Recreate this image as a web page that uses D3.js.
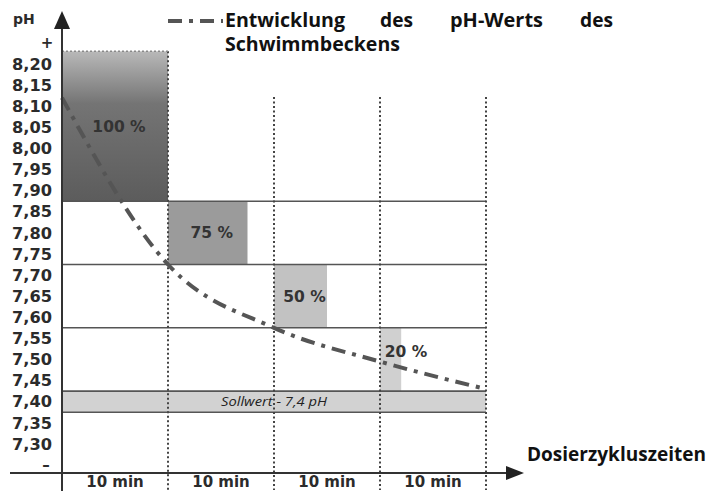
<!DOCTYPE html>
<head>
  <meta charset="utf-8">
  <title>Entwicklung des pH-Werts</title>
  <script src="https://d3js.org/d3.v7.min.js"></script>
  <style>
    body { margin: 0; background: #fff; }
    text { fill: #2b2b2b; }
  </style>
</head>
<body>
  <svg id="main-svg"></svg>
  <script type="text/javascript">
    // values
    var phTicks = [7.30, 7.35, 7.40, 7.45, 7.50, 7.55, 7.60, 7.65, 7.70, 7.75, 7.80, 7.85, 7.90, 7.95, 8.00, 8.05, 8.10, 8.15, 8.20];
    var cycleLabels = ["10 min", "10 min", "10 min", "10 min"];
    var dosing = [100, 75, 50, 20];
    var bandTop = [8.23, 7.875, 7.725, 7.575];
    var bandBottom = [7.875, 7.725, 7.575, 7.425];
    var sollwert = [7.425, 7.375];
    var phTime = [0, 10, 20, 30, 40];
    var phValues = [8.12, 7.725, 7.575, 7.495, 7.43];

    const svg_width = 710;
    const svg_height = 491;

    var x = d3.scaleLinear().domain([0, 40]).range([62, 486]);
    var y = d3.scaleLinear().domain([7.25, 8.20]).range([465, 64]);
    var colW = x(10) - x(0);

    var svg = d3.select("#main-svg")
      .attr("width", svg_width)
      .attr("height", svg_height);

    var defs = svg.append("defs");
    var grad = defs.append("linearGradient")
      .attr("id", "g100").attr("x1", 0).attr("y1", 0).attr("x2", 0).attr("y2", 1);
    grad.append("stop").attr("offset", "0%").attr("stop-color", "#b8b8b8");
    grad.append("stop").attr("offset", "35%").attr("stop-color", "#747474");
    grad.append("stop").attr("offset", "100%").attr("stop-color", "#5c5c5c");

    var barColors = ["url(#g100)", "#9b9b9b", "#c2c2c2", "#d0d0d0"];

    // dosing bars
    svg.selectAll(".bar")
      .data(dosing)
      .enter().append("rect")
      .attr("class", "bar")
      .attr("x", function(d, i) { return x(i * 10); })
      .attr("y", function(d, i) { return y(bandTop[i]); })
      .attr("width", function(d) { return colW * d / 100; })
      .attr("height", function(d, i) { return y(bandBottom[i]) - y(bandTop[i]); })
      .style("fill", function(d, i) { return barColors[i]; });

    // sollwert band
    svg.append("rect")
      .attr("x", x(0))
      .attr("y", y(sollwert[0]))
      .attr("width", x(40) - x(0))
      .attr("height", y(sollwert[1]) - y(sollwert[0]))
      .style("fill", "#d2d2d2");

    svg.append("text")
      .attr("x", 274)
      .attr("y", (y(sollwert[0]) + y(sollwert[1])) / 2)
      .attr("dy", "0.35em")
      .attr("text-anchor", "middle")
      .attr("textLength", 106)
      .attr("lengthAdjust", "spacingAndGlyphs")
      .style("font-family", "Open Sans")
      .style("font-style", "italic")
      .style("font-size", "13.5px")
      .style("fill", "#222")
      .text("Sollwert - 7,4 pH");

    // horizontal solid lines
    var hLines = bandBottom.concat([sollwert[1]]);
    svg.selectAll(".hline")
      .data(hLines)
      .enter().append("line")
      .attr("x1", x(0)).attr("x2", x(40))
      .attr("y1", function(d) { return y(d); })
      .attr("y2", function(d) { return y(d); })
      .style("stroke", "#555")
      .style("stroke-width", 1.6);

    // dotted verticals
    svg.selectAll(".vline")
      .data([10, 20, 30, 40])
      .enter().append("line")
      .attr("x1", function(d) { return x(d); })
      .attr("x2", function(d) { return x(d); })
      .attr("y1", function(d) { return d === 10 ? y(bandTop[0]) : 97; })
      .attr("y2", 490)
      .style("stroke", "#444")
      .style("stroke-width", 2)
      .style("stroke-dasharray", "2,2.5");

    svg.append("line")
      .attr("x1", x(0)).attr("x2", x(10))
      .attr("y1", y(bandTop[0])).attr("y2", y(bandTop[0]))
      .style("stroke", "#888")
      .style("stroke-width", 1.5)
      .style("stroke-dasharray", "2,2");

    // percent labels
    svg.selectAll(".pct")
      .data(dosing)
      .enter().append("text")
      .attr("x", function(d, i) { return Math.max(x(i * 10) + colW * d / 200 + 4, x(i * 10) + 26); })
      .attr("y", function(d, i) { return (y(bandTop[i]) + y(bandBottom[i])) / 2 - (i === 3 ? 8 : 0); })
      .attr("dy", "0.36em")
      .attr("text-anchor", "middle")
      .style("font-family", "DejaVu Sans")
      .style("font-weight", "bold")
      .style("font-size", "15.5px")
      .style("fill", "#333")
      .text(function(d) { return d + " %"; });

    // pH curve
    var line = d3.line()
      .x(function(d, i) { return x(phTime[i]); })
      .y(function(d) { return y(d); })
      .curve(d3.curveMonotoneX);

    svg.append("path")
      .datum(phValues)
      .attr("d", line)
      .style("fill", "none")
      .style("stroke", "#555")
      .style("stroke-width", 4)
      .style("stroke-dasharray", "14,7,4,7");

    // axes
    svg.append("line")
      .attr("x1", 10).attr("x2", 512)
      .attr("y1", 473).attr("y2", 473)
      .style("stroke", "#333").style("stroke-width", 2);
    svg.append("path")
      .attr("d", "M524,473 L506,466 L506,480 Z")
      .style("fill", "#222");

    svg.append("line")
      .attr("x1", x(0)).attr("x2", x(0))
      .attr("y1", 491).attr("y2", 26)
      .style("stroke", "#333").style("stroke-width", 2);
    svg.append("path")
      .attr("d", "M62,11 L54,29 L70,29 Z")
      .style("fill", "#222");

    var fmt = function(d) { return d3.format(".2f")(d).replace(".", ","); };

    svg.selectAll(".ytick")
      .data(phTicks)
      .enter().append("text")
      .attr("x", 52)
      .attr("y", function(d) { return y(d); })
      .attr("dy", "0.36em")
      .attr("text-anchor", "end")
      .attr("textLength", 40)
      .attr("lengthAdjust", "spacingAndGlyphs")
      .style("font-family", "DejaVu Sans")
      .style("font-weight", "bold")
      .style("font-size", "16px")
      .text(fmt);

    svg.append("text")
      .attr("x", 47).attr("y", y(8.25)).attr("dy", "0.36em")
      .attr("text-anchor", "middle")
      .style("font-family", "DejaVu Sans").style("font-weight", "bold").style("font-size", "15px")
      .text("+");
    svg.append("text")
      .attr("x", 46).attr("y", y(7.25)).attr("dy", "0.36em")
      .attr("text-anchor", "middle")
      .style("font-family", "DejaVu Sans").style("font-weight", "bold").style("font-size", "15px")
      .text("–");
    svg.append("text")
      .attr("x", 13).attr("y", 24)
      .style("font-family", "DejaVu Sans").style("font-weight", "bold").style("font-size", "14px")
      .text("pH");

    svg.selectAll(".xtick")
      .data(cycleLabels)
      .enter().append("text")
      .attr("x", function(d, i) { return x(i * 10 + 5); })
      .attr("y", 487)
      .attr("text-anchor", "middle")
      .style("font-family", "DejaVu Sans")
      .style("font-weight", "bold")
      .style("font-size", "15px")
      .text(function(d) { return d; });

    svg.append("text")
      .attr("x", 527).attr("y", 461)
      .attr("textLength", 179)
      .attr("lengthAdjust", "spacingAndGlyphs")
      .style("font-family", "Open Sans").style("font-weight", "bold").style("font-size", "19px")
      .style("fill", "#111")
      .text("Dosierzykluszeiten");

    // legend
    svg.append("line")
      .attr("x1", 168).attr("x2", 223)
      .attr("y1", 21).attr("y2", 21)
      .style("stroke", "#555")
      .style("stroke-width", 4)
      .style("stroke-dasharray", "14,7,4,7");

    var legendWords = [
      { t: "Entwicklung", x: 225, y: 27, w: 120 },
      { t: "des", x: 380, y: 27, w: 33 },
      { t: "pH-Werts", x: 450, y: 27, w: 93 },
      { t: "des", x: 580, y: 27, w: 33 },
      { t: "Schwimmbeckens", x: 225, y: 51, w: 175 }
    ];
    svg.selectAll(".legword")
      .data(legendWords)
      .enter().append("text")
      .attr("x", function(d) { return d.x; })
      .attr("y", function(d) { return d.y; })
      .attr("textLength", function(d) { return d.w; })
      .attr("lengthAdjust", "spacingAndGlyphs")
      .style("font-family", "Open Sans").style("font-weight", "bold").style("font-size", "19px")
      .style("fill", "#111")
      .text(function(d) { return d.t; });
  </script>
</body>
